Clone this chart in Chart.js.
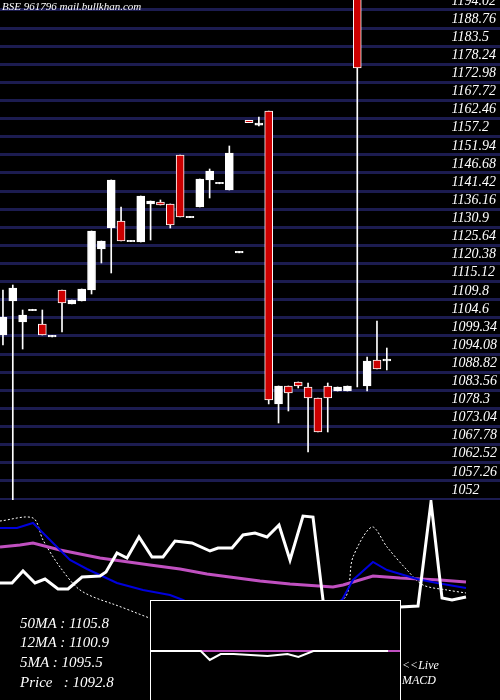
<!DOCTYPE html>
<html>
<head>
<meta charset="utf-8">
<script src="https://cdn.jsdelivr.net/npm/chart.js@4"></script>
<style>
  body { margin: 0; background: #000; width: 500px; height: 700px; overflow: hidden; position: relative; font-family: "Liberation Serif", serif; }
  #main { position: absolute; left: 0; top: 0; width: 500px; height: 500px; }
  #ind { position: absolute; left: 0; top: 500px; width: 500px; height: 200px; }
  #macdBox { position: absolute; left: 150px; top: 600px; width: 249px; height: 100px; border: 1px solid #fff; border-bottom: none; background: #000; }
  .t { position: absolute; color: #fff; font-style: italic; white-space: pre; }
</style>
</head>
<body>
<div id="main"><canvas id="mainCanvas"></canvas></div>
<div id="ind"><canvas id="indCanvas"></canvas></div>
<div id="macdBox"><canvas id="macdCanvas"></canvas></div>
<div class="t" style="left:2px;top:0px;font-size:11px;">BSE 961796 mail.bullkhan.com</div>
<div class="t" style="left:20px;top:615px;font-size:15px;">50MA : 1105.8</div>
<div class="t" style="left:20px;top:634px;font-size:15px;">12MA : 1100.9</div>
<div class="t" style="left:20px;top:654px;font-size:15px;">5MA : 1095.5</div>
<div class="t" style="left:20px;top:674px;font-size:15px;">Price   : 1092.8</div>
<div class="t" style="left:402px;top:658px;font-size:12px;">&lt;&lt;Live</div>
<div class="t" style="left:402px;top:673px;font-size:12px;">MACD</div>
<script>
// price ticks on the right
const tickLabels = [1194.02, 1188.76, 1183.5, 1178.24, 1172.98, 1167.72, 1162.46, 1157.2, 1151.94,
  1146.68, 1141.42, 1136.16, 1130.9, 1125.64, 1120.38, 1115.12, 1109.8, 1104.6, 1099.34, 1094.08,
  1088.82, 1083.56, 1078.3, 1073.04, 1067.78, 1062.52, 1057.26, 1052];

// candles
const opens  = [1099.63, 1109.51, 1103.41, 1106.7, 1102.83, 1099.1, 1112.7, 1108.63, 1109.51, 1112.7,
  1124.61, 1130.71, 1132.74, 1126.7, 1126.64, 1137.68, 1138.26, 1137.68, 1151.91, 1133.7,
  1136.81, 1144.65, 1143.55, 1141.74, 1123.5, 1162.0, 1160.6, 1164.69, 1079.59, 1084.82,
  1085.98, 1084.53, 1081.33, 1084.82, 1083.37, 1083.37, 1230, 1084.82, 1092.37, 1092.1];
const closes = [1104.86, 1113.28, 1105.44, 1107.1, 1099.63, 1099.5, 1108.93, 1109.8, 1112.99, 1129.84,
  1126.93, 1144.65, 1126.93, 1127.1, 1140.0, 1138.55, 1137.39, 1131.58, 1133.9, 1134.1,
  1144.94, 1147.26, 1143.95, 1152.49, 1123.9, 1161.3, 1161.2, 1080.75, 1084.82, 1082.79,
  1084.82, 1081.33, 1071.46, 1081.33, 1084.53, 1084.82, 1177.18, 1092.08, 1089.76, 1092.6];
const highs  = [1112.7, 1114.15, 1106.89, 1107.1, 1106.89, 1099.5, 1112.7, 1109.8, 1112.99, 1129.84,
  1126.93, 1144.65, 1136.81, 1127.1, 1140.0, 1138.55, 1138.84, 1137.68, 1151.91, 1134.1,
  1144.94, 1147.84, 1143.95, 1154.52, 1123.9, 1162.0, 1162.94, 1164.69, 1084.82, 1084.82,
  1085.98, 1085.69, 1081.33, 1085.69, 1084.53, 1084.82, 1230, 1093.24, 1103.7, 1095.85];
const lows   = [1096.73, 1045, 1095.56, 1106.7, 1099.63, 1099.1, 1100.5, 1108.63, 1109.51, 1111.54,
  1120.54, 1117.64, 1126.93, 1126.7, 1126.64, 1127.22, 1137.39, 1130.71, 1133.9, 1133.7,
  1136.81, 1139.42, 1143.55, 1141.74, 1123.5, 1161.3, 1160.33, 1079.59, 1074.07, 1077.56,
  1084.24, 1065.65, 1071.46, 1071.46, 1083.37, 1083.37, 1084.53, 1083.37, 1089.76, 1089.47];

// indicator panel lines, x and y in panel pixels
const priceLineX = [0, 12, 23, 35, 45, 58, 68, 82, 100, 106, 117, 127, 139, 152, 163, 175, 192, 210, 218, 232,
  243, 255, 267, 279, 290, 303, 313, 323, 335, 390, 400, 418, 431, 442, 452, 466];
const priceLineY = [83, 83, 71, 83, 79, 89, 89, 77, 76, 72, 53, 58, 37, 57, 57, 41, 43, 51, 48, 48,
  35, 33, 37, 25, 60, 16, 17, 100, 140, 110, 107, 106, 2, 98, 100, 97];
const ma12X = [0, 17, 33, 43, 70, 87, 117, 143, 170, 183, 260, 342, 353, 373, 387, 417, 437, 466];
const ma12Y = [28, 28, 23, 33, 60, 69, 83, 90, 95, 100, 140, 100, 80, 62, 70, 79, 83, 88];
const ma50X = [0, 20, 33, 60, 100, 150, 180, 207, 260, 290, 333, 343, 373, 400, 440, 466];
const ma50Y = [47, 45, 43, 50, 58, 65, 69, 74, 81, 84, 87, 85, 76, 78, 80, 82];
const ma5X = [0, 33, 43, 60, 80, 110, 200, 342, 353, 372, 387, 407, 423, 447, 466];
const ma5Y = [21, 18, 40, 67, 90, 103, 130, 100, 57, 27, 47, 70, 85, 90, 93];

// MACD inset, in inset pixels
const macdX = [0, 50, 59, 70, 83, 117, 137, 148, 163, 238];
const macdY = [50, 50, 59, 53, 53, 55, 53, 56, 50, 50];
const signalX = [0, 250];
const signalY = [50, 50];

const bodies = [], wicks = [], bodyColors = [];
for (let i = 0; i < opens.length; i++) {
  bodies.push({ x: i, y: [Math.min(opens[i], closes[i]), Math.max(opens[i], closes[i])] });
  wicks.push({ x: i, y: [lows[i], highs[i]] });
  bodyColors.push(closes[i] < opens[i] ? '#cc0000' : '#ffffff');
}

Chart.defaults.animation = false;
Chart.defaults.plugins.legend.display = false;
Chart.defaults.plugins.tooltip.enabled = false;

// first dataset is drawn on top in Chart.js
new Chart(document.getElementById('mainCanvas'), {
  type: 'bar',
  data: {
    datasets: [
      { data: bodies, backgroundColor: bodyColors, borderColor: '#ffffff', borderWidth: 1,
        borderSkipped: false, barThickness: 8, grouped: false },
      { data: wicks, backgroundColor: '#ffffff', barThickness: 1, grouped: false }
    ]
  },
  options: {
    responsive: true, maintainAspectRatio: false,
    layout: { padding: 0 },
    scales: {
      x: { type: 'linear', offset: false, min: -0.3, max: 50.5, display: false },
      y: {
        position: 'right', min: 1051.71, max: 1196.92,
        afterBuildTicks: axis => { axis.ticks = tickLabels.map(v => ({ value: v })); },
        afterFit: axis => { axis.paddingTop = 0; axis.paddingBottom = 0; axis.width = 0; },
        grid: { color: '#1c1c50', lineWidth: 3, drawTicks: false },
        border: { display: false },
        ticks: {
          mirror: true, autoSkip: false, crossAlign: 'far', padding: -3, labelOffset: -9, color: '#ffffff',
          font: { family: 'Liberation Serif', style: 'italic', size: 14 },
          callback: v => String(v)
        }
      }
    }
  }
});

function pts(xs, ys) { return xs.map((x, i) => ({ x: x, y: ys[i] })); }

new Chart(document.getElementById('indCanvas'), {
  type: 'line',
  data: {
    datasets: [
      { data: pts(priceLineX, priceLineY), borderColor: '#ffffff', borderWidth: 3, pointRadius: 0 },
      { data: pts(ma12X, ma12Y), borderColor: '#0000dd', borderWidth: 2, pointRadius: 0 },
      { data: pts(ma50X, ma50Y), borderColor: '#c050c0', borderWidth: 3, pointRadius: 0 },
      { data: pts(ma5X, ma5Y), borderColor: '#ffffff', borderWidth: 1, borderDash: [2, 2], pointRadius: 0, tension: 0.3 }
    ]
  },
  options: {
    responsive: true, maintainAspectRatio: false,
    layout: { padding: 0 },
    scales: {
      x: { type: 'linear', min: 0, max: 500, display: false },
      y: { min: 0, max: 200, reverse: true, display: false }
    }
  }
});

new Chart(document.getElementById('macdCanvas'), {
  type: 'line',
  data: {
    datasets: [
      { data: pts(macdX, macdY), borderColor: '#ffffff', borderWidth: 2, pointRadius: 0 },
      { data: pts(signalX, signalY), borderColor: '#c050c0', borderWidth: 2, pointRadius: 0 }
    ]
  },
  options: {
    responsive: true, maintainAspectRatio: false,
    layout: { padding: 0 },
    scales: {
      x: { type: 'linear', min: 0, max: 250, display: false },
      y: { min: 0, max: 100, reverse: true, display: false }
    }
  }
});
</script>
</body>
</html>
